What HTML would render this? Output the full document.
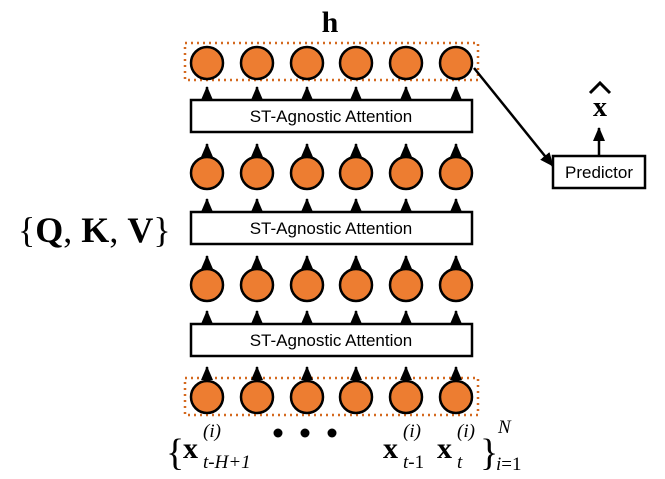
<!DOCTYPE html>
<html><head><meta charset="utf-8"><style>body{margin:0;background:#fff}svg{display:block}</style></head><body>
<svg width="665" height="479" viewBox="0 0 665 479" xmlns="http://www.w3.org/2000/svg">
<defs>
<marker id="b" markerWidth="14" markerHeight="12" refX="13" refY="6" orient="auto" markerUnits="userSpaceOnUse"><path d="M0,0 L14,6 L0,12 Z" fill="#000"/></marker>
<g id="ar"><line x1="0" y1="0" x2="0" y2="-13" stroke="#000" stroke-width="2.5" marker-end="url(#b)"/></g>
<g id="ra">
<use href="#ar" x="207"/><use href="#ar" x="257"/><use href="#ar" x="307"/><use href="#ar" x="356"/><use href="#ar" x="406"/><use href="#ar" x="456"/>
</g>
</defs>
<text x="330" y="32" font-family="Liberation Serif,serif" font-weight="bold" font-size="30" text-anchor="middle">h</text>
<rect x="185" y="43" width="293" height="37" fill="none" stroke="#D4691F" stroke-width="2.5" stroke-dasharray="2,4"/>
<rect x="185" y="378" width="293" height="37" fill="none" stroke="#D4691F" stroke-width="2.5" stroke-dasharray="2,4"/>
<use href="#ra" y="100"/><use href="#ra" y="157"/><use href="#ra" y="212"/><use href="#ra" y="269"/><use href="#ra" y="324"/><use href="#ra" y="380"/>
<g font-family="Liberation Sans,sans-serif" font-size="17" text-anchor="middle">
<rect x="191" y="100" width="281" height="32" fill="#fff" stroke="#000" stroke-width="2.5"/><text x="331" y="122">ST-Agnostic Attention</text>
<rect x="191" y="212" width="281" height="32" fill="#fff" stroke="#000" stroke-width="2.5"/><text x="331" y="234">ST-Agnostic Attention</text>
<rect x="191" y="324" width="281" height="32" fill="#fff" stroke="#000" stroke-width="2.5"/><text x="331" y="346">ST-Agnostic Attention</text>
<rect x="553" y="156" width="92" height="32" fill="#fff" stroke="#000" stroke-width="2.5"/><text x="599" y="178">Predictor</text>
</g>
<line x1="474" y1="68" x2="553" y2="166" stroke="#000" stroke-width="2.5" marker-end="url(#b)"/>
<line x1="599" y1="156" x2="599" y2="128" stroke="#000" stroke-width="2.5" marker-end="url(#b)"/>
<g fill="#ED7D31" stroke="#000" stroke-width="2.5">
<g id="r"><circle cx="207" cy="63" r="16"/><circle cx="257" cy="63" r="16"/><circle cx="307" cy="63" r="16"/><circle cx="356" cy="63" r="16"/><circle cx="406" cy="63" r="16"/><circle cx="456" cy="63" r="16"/></g>
<use href="#r" y="110"/><use href="#r" y="222"/><use href="#r" y="334"/>
</g>
<text x="600" y="116" font-family="Liberation Serif,serif" font-weight="bold" font-size="28" text-anchor="middle">x</text>
<path d="M590,93 L600,83 L610,93" fill="none" stroke="#000" stroke-width="3"/>
<text x="18" y="242" font-family="Liberation Serif,serif" font-size="36">{<tspan font-weight="bold">Q</tspan>, <tspan font-weight="bold">K</tspan>, <tspan font-weight="bold">V</tspan>}</text>
<g fill="#000"><circle cx="278" cy="433" r="4.5"/><circle cx="305" cy="433" r="4.5"/><circle cx="332" cy="433" r="4.5"/></g>
<g font-family="Liberation Serif,serif">
<text x="166" y="465" font-size="38">{</text>
<text x="183" y="458" font-size="30" font-weight="bold">x</text>
<text x="203" y="437" font-size="19" font-style="italic">(i)</text>
<text x="203" y="468" font-size="19" font-style="italic">t-H+1</text>
<text x="383" y="458" font-size="30" font-weight="bold">x</text>
<text x="403" y="437" font-size="19" font-style="italic">(i)</text>
<text x="403" y="468" font-size="19"><tspan font-style="italic">t</tspan>-1</text>
<text x="437" y="458" font-size="30" font-weight="bold">x</text>
<text x="457" y="437" font-size="19" font-style="italic">(i)</text>
<text x="457" y="468" font-size="19" font-style="italic">t</text>
<text x="480" y="465" font-size="38">}</text>
<text x="498" y="433" font-size="19" font-style="italic">N</text>
<text x="496" y="470" font-size="19"><tspan font-style="italic">i</tspan>=1</text>
</g>
</svg>
</body></html>
